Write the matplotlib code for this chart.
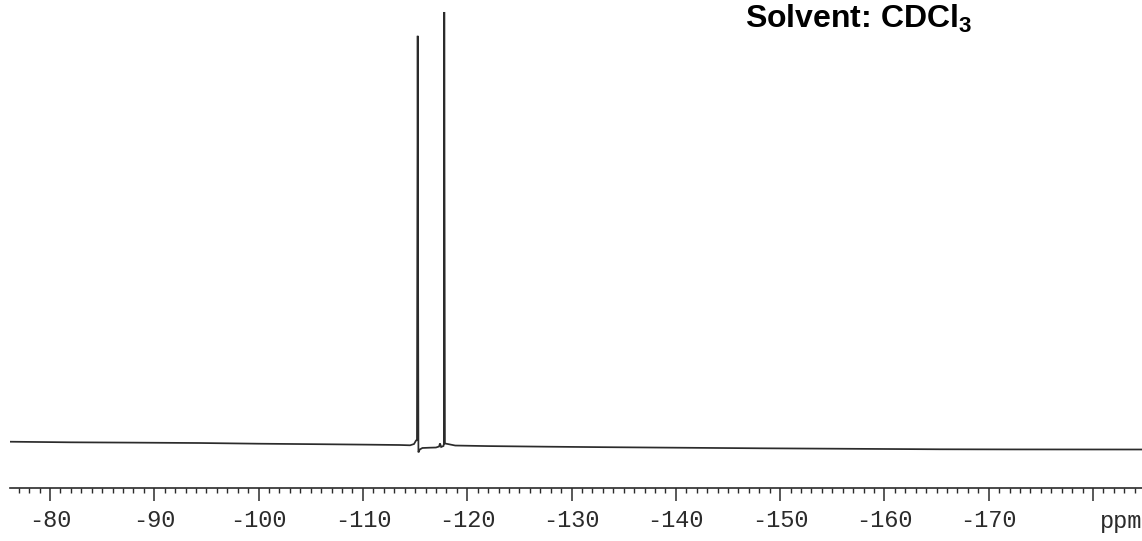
import matplotlib
matplotlib.use("Agg")
import matplotlib.pyplot as plt
from matplotlib.ticker import MultipleLocator, FixedLocator, FixedFormatter
from matplotlib.transforms import ScaledTranslation

plt.rcParams["mathtext.fontset"] = "custom"
plt.rcParams["mathtext.rm"] = "Liberation Sans:bold"
plt.rcParams["mathtext.bf"] = "Liberation Sans:bold"

# 19F NMR trace: chemical shift (ppm) and relative intensity (%)
shift_ppm = [-76.16, -82.0, -88.0, -94.38, -100.0, -106.0, -110.5, -113.56, -114.52,
             -114.90, -115.09, -115.18, -115.25, -115.32, -115.45, -115.70, -116.4,
             -117.00, -117.30, -117.39, -117.50, -117.72, -117.76, -117.80, -117.86,
             -118.13, -118.85, -122.0, -127.65, -133.0, -140.0, -148.07, -155.0,
             -160.0, -165.33, -172.0, -178.0, -184.70]
intensity = [0.76, 0.62, 0.55, 0.46, 0.30, 0.18, 0.08, 0.00, -0.07,
             0.23, 1.04, 1.10, 94.5, -1.70, -1.04, -0.69, -0.62,
             -0.58, -0.35, 0.39, -0.46, -0.23, 0.23, 100.0, 0.35,
             0.23, -0.12, -0.25, -0.39, -0.50, -0.62, -0.76, -0.85,
             -0.92, -0.99, -1.02, -1.03, -1.04]

major_ticks = [-80, -90, -100, -110, -120, -130, -140, -150, -160, -170, -180]
major_labels = ["-80", "-90", "-100", "-110", "-120", "-130", "-140", "-150",
                "-160", "-170", ""]
solvent = r"Solvent: CDCl$_\mathbf{3}$"

ink = "#2b2b2b"

fig = plt.figure(figsize=(11.42, 5.41), dpi=100)
ax = fig.add_axes([10 / 1142, 53 / 541, 1 - 10 / 1142, 1 - 53 / 541])

ax.plot(shift_ppm, intensity, color=ink, lw=1.25, solid_joinstyle="miter")

ax.set_xlim(-76.16, -184.7)
ax.set_ylim(-9.93, 102.77)

for side in ("left", "right", "top"):
    ax.spines[side].set_visible(False)
ax.spines["bottom"].set_color(ink)
ax.spines["bottom"].set_linewidth(1.2)
ax.set_yticks([])

ax.xaxis.set_major_locator(FixedLocator(major_ticks))
ax.xaxis.set_major_formatter(FixedFormatter(major_labels))
ax.xaxis.set_minor_locator(MultipleLocator(1))
ax.tick_params(axis="x", which="major", direction="out", length=9.5, width=1.1,
               color=ink, pad=5.5, labelsize=17, labelcolor=ink)
ax.tick_params(axis="x", which="minor", direction="out", length=3.3, width=1.0,
               color=ink)
for lab in ax.get_xticklabels():
    lab.set_fontfamily("Liberation Mono")

# unit label sits in the tick-label row, just right of the -180 tick
ax.text(-180.67, -9.93, "ppm", ha="left", va="top",
        fontfamily="Liberation Mono", fontsize=17, color=ink, clip_on=False,
        transform=ax.transData + ScaledTranslation(0, -22 / 100, fig.dpi_scale_trans))

fig.text(745 / 1142, 1 - 28 / 541, solvent, ha="left", va="baseline",
         fontfamily="Liberation Sans", fontweight="bold", fontsize=23, color="black")

fig.savefig("out.png", dpi=100, facecolor="white")
